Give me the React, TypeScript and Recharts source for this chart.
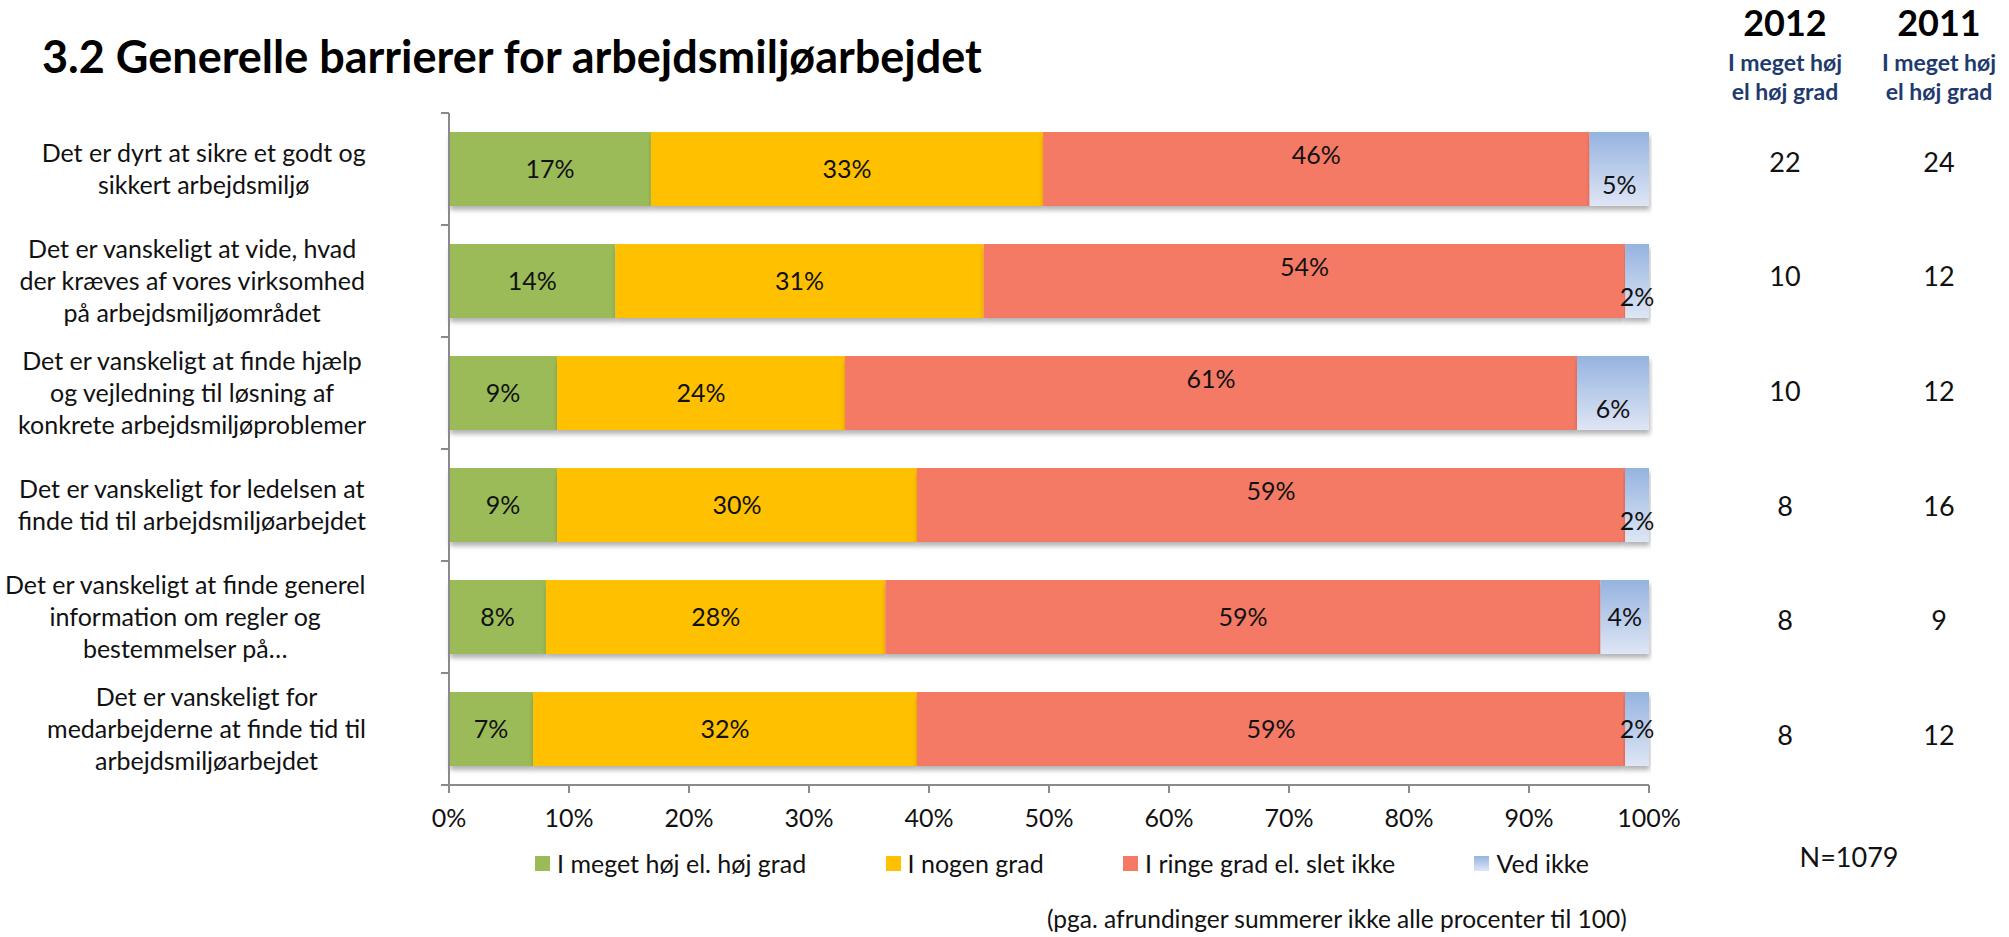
import React from 'react';
import { BarChart, Bar, XAxis, YAxis, LabelList } from 'recharts';

// ---------- data ----------
const categories = [
  'Det er dyrt at sikre et godt og\nsikkert arbejdsmiljø',
  'Det er vanskeligt at vide, hvad\nder kræves af vores virksomhed\npå arbejdsmiljøområdet',
  'Det er vanskeligt at finde hjælp\nog vejledning til løsning af\nkonkrete arbejdsmiljøproblemer',
  'Det er vanskeligt for ledelsen at\nfinde tid til arbejdsmiljøarbejdet',
  'Det er vanskeligt at finde generel\ninformation om regler og\nbestemmelser på…',
  'Det er vanskeligt for\nmedarbejderne at finde tid til\narbejdsmiljøarbejdet',
];
const highDegree = [17, 14, 9, 9, 8, 7];
const someDegree = [33, 31, 24, 30, 28, 32];
const lowDegree = [46, 54, 61, 59, 59, 59];
const dontKnow = [5, 2, 6, 2, 4, 2];
const high2012 = [22, 10, 10, 8, 8, 8];
const high2011 = [24, 12, 12, 16, 9, 12];
const xTicks = [0, 0.1, 0.2, 0.3, 0.4, 0.5, 0.6, 0.7, 0.8, 0.9, 1];
const seriesNames = ['I meget høj el. høj grad', 'I nogen grad', 'I ringe grad el. slet ikke', 'Ved ikke'];
// rows where Excel placed the last two labels off-centre (style quirk)
const offsetLabelRows = [true, true, true, true, false, false];

const data = categories.map((cat, i) => ({
  cat,
  high: highDegree[i],
  some: someDegree[i],
  low: lowDegree[i],
  dk: dontKnow[i],
}));

// ---------- style ----------
const W = 2009;
const H = 937;
const PLOT_LEFT = 449;
const PLOT_TOP = 113;
const PLOT_BOTTOM = 785;
const RIGHT_W = 360;
const X_AXIS_H = 60;
const BAND = (PLOT_BOTTOM - PLOT_TOP) / categories.length;
const FONT = "Lato, 'Open Sans', 'Noto Sans', sans-serif";
const AXIS_COLOR = '#8a8a8a';
const COLORS = ['#9BBB59', '#FFC000', '#F47A66', 'url(#blueGrad)'];
const LABEL_RIGHT = 366;
const COL_2012 = 1785;
const COL_2011 = 1939;

let measureCtx: CanvasRenderingContext2D | null = null;
const measure = (s: string, font: string) => {
  if (!measureCtx) {
    const c = document.createElement('canvas');
    measureCtx = c.getContext('2d');
  }
  if (!measureCtx) return s.length * 11;
  measureCtx.font = font;
  return measureCtx.measureText(s).width;
};

const CatTick = (props: any) => {
  const { y, payload, index } = props;
  const lines = String(payload.value).split('\n');
  const font = `25px ${FONT}`;
  const maxW = Math.max(...lines.map((l) => measure(l, font)));
  const cx = LABEL_RIGHT - maxW / 2;
  const lh = 32;
  const y0 = y - ((lines.length - 1) * lh) / 2;
  return (
    <g>
      <line x1={PLOT_LEFT - 8} x2={PLOT_LEFT} y1={y - BAND / 2} y2={y - BAND / 2} stroke={AXIS_COLOR} strokeWidth={2} />
      {index === categories.length - 1 && (
        <line x1={PLOT_LEFT - 8} x2={PLOT_LEFT} y1={y + BAND / 2} y2={y + BAND / 2} stroke={AXIS_COLOR} strokeWidth={2} />
      )}
      <text textAnchor="middle" fontSize={25} fontFamily={FONT} fill="#111">
        {lines.map((l, i) => (
          <tspan key={i} x={cx} y={y0 + i * lh} dy="0.35em">
            {l}
          </tspan>
        ))}
      </text>
    </g>
  );
};

const RightTick = (props: any) => {
  const { y, index } = props;
  return (
    <g fontFamily={FONT} fontSize={27} fill="#111">
      <text x={COL_2012} y={y} dy="0.35em" textAnchor="middle">
        {high2012[index]}
      </text>
      <text x={COL_2011} y={y} dy="0.35em" textAnchor="middle">
        {high2011[index]}
      </text>
    </g>
  );
};

const makeLabel = (mode: 'center' | 'up' | 'down') => (props: any) => {
  const x = Number(props.x);
  const y = Number(props.y);
  const width = Number(props.width);
  const height = Number(props.height);
  const { value, index } = props;
  let shift = 0;
  if (offsetLabelRows[index]) {
    if (mode === 'up') shift = -0.18 * height;
    if (mode === 'down') shift = 0.22 * height;
  }
  return (
    <text
      x={x + width / 2}
      y={y + height / 2 + shift}
      dy="0.35em"
      textAnchor="middle"
      fontFamily={FONT}
      fontSize={25}
      fill="#111"
    >
      {`${value}%`}
    </text>
  );
};

const legendSwatch = (i: number) =>
  i === 3 ? 'linear-gradient(to bottom, #95B3E0, #DFE6F5)' : COLORS[i];

export default function App() {
  return (
    <div style={{ position: 'absolute', left: 0, top: 0, width: W, height: H, background: '#fff', fontFamily: FONT }}>
      <BarChart
        width={W}
        height={H}
        data={data}
        layout="vertical"
        stackOffset="expand"
        barCategoryGap="17%"
        margin={{ top: PLOT_TOP, right: 0, left: 0, bottom: H - PLOT_BOTTOM - X_AXIS_H }}
      >
        <defs>
          <linearGradient id="blueGrad" x1="0" y1="0" x2="0" y2="1">
            <stop offset="0%" stopColor="#95B3E0" />
            <stop offset="100%" stopColor="#DFE6F5" />
          </linearGradient>
          <filter id="barShadow" x="-5%" y="-10%" width="110%" height="140%">
            <feDropShadow dx="1" dy="4" stdDeviation="2.5" floodColor="#000" floodOpacity="0.3" />
          </filter>
        </defs>
        <XAxis
          type="number"
          domain={[0, 1]}
          ticks={xTicks}
          tickFormatter={(v: number) => `${Math.round(v * 100)}%`}
          height={X_AXIS_H}
          axisLine={{ stroke: AXIS_COLOR, strokeWidth: 2 }}
          tickLine={{ stroke: AXIS_COLOR, strokeWidth: 2 }}
          tickSize={8}
          tickMargin={16}
          tick={{ fontSize: 25, fontFamily: FONT, fill: '#111' }}
          interval={0}
        />
        <YAxis
          yAxisId="left"
          type="category"
          dataKey="cat"
          width={PLOT_LEFT}
          axisLine={{ stroke: AXIS_COLOR, strokeWidth: 2 }}
          tickLine={false}
          tick={<CatTick />}
          interval={0}
        />
        <YAxis
          yAxisId="right"
          orientation="right"
          type="category"
          dataKey="cat"
          width={RIGHT_W}
          axisLine={false}
          tickLine={false}
          tick={<RightTick />}
          interval={0}
          padding={{ top: -8, bottom: -8 }}
        />
        <Bar dataKey="high" stackId="s" yAxisId="left" fill={COLORS[0]} isAnimationActive={false} filter="url(#barShadow)">
          <LabelList dataKey="high" content={makeLabel('center')} />
        </Bar>
        <Bar dataKey="some" stackId="s" yAxisId="left" fill={COLORS[1]} isAnimationActive={false} filter="url(#barShadow)">
          <LabelList dataKey="some" content={makeLabel('center')} />
        </Bar>
        <Bar dataKey="low" stackId="s" yAxisId="left" fill={COLORS[2]} isAnimationActive={false} filter="url(#barShadow)">
          <LabelList dataKey="low" content={makeLabel('up')} />
        </Bar>
        <Bar dataKey="dk" stackId="s" yAxisId="left" fill={COLORS[3]} isAnimationActive={false} filter="url(#barShadow)">
          <LabelList dataKey="dk" content={makeLabel('down')} />
        </Bar>
      </BarChart>

      <svg width={W} height={H} style={{ position: 'absolute', left: 0, top: 0, pointerEvents: 'none' }}>
        <text x={42} y={73} fontFamily={FONT} fontWeight={700} fontSize={45} fill="#000">
          3.2 Generelle barrierer for arbejdsmiljøarbejdet
        </text>
        <g fontFamily={FONT} fontWeight={700} textAnchor="middle">
          <text x={COL_2012} y={36} fontSize={36} fill="#000">2012</text>
          <text x={COL_2011} y={36} fontSize={36} fill="#000">2011</text>
          <text x={COL_2012} y={71} fontSize={23} fill="#1F3A6E">I meget høj</text>
          <text x={COL_2012} y={100} fontSize={23} fill="#1F3A6E">el høj grad</text>
          <text x={COL_2011} y={71} fontSize={23} fill="#1F3A6E">I meget høj</text>
          <text x={COL_2011} y={100} fontSize={23} fill="#1F3A6E">el høj grad</text>
        </g>
        <text x={1849} y={858} dy="0.35em" textAnchor="middle" fontFamily={FONT} fontSize={27} fill="#111">
          N=1079
        </text>
        <text x={1047} y={919} dy="0.35em" fontFamily={FONT} fontSize={24.5} fill="#111">
          (pga. afrundinger summerer ikke alle procenter til 100)
        </text>
      </svg>

      <div
        style={{
          position: 'absolute',
          left: 535,
          top: 848,
          width: 1054,
          height: 30,
          display: 'flex',
          alignItems: 'center',
          justifyContent: 'space-between',
          fontFamily: FONT,
          fontSize: 25,
          color: '#111',
          whiteSpace: 'nowrap',
        }}
      >
        {seriesNames.map((n, i) => (
          <div key={n} style={{ display: 'flex', alignItems: 'center' }}>
            <span style={{ display: 'inline-block', width: 15, height: 15, background: legendSwatch(i), marginRight: 7 }} />
            <span>{n}</span>
          </div>
        ))}
      </div>
    </div>
  );
}
